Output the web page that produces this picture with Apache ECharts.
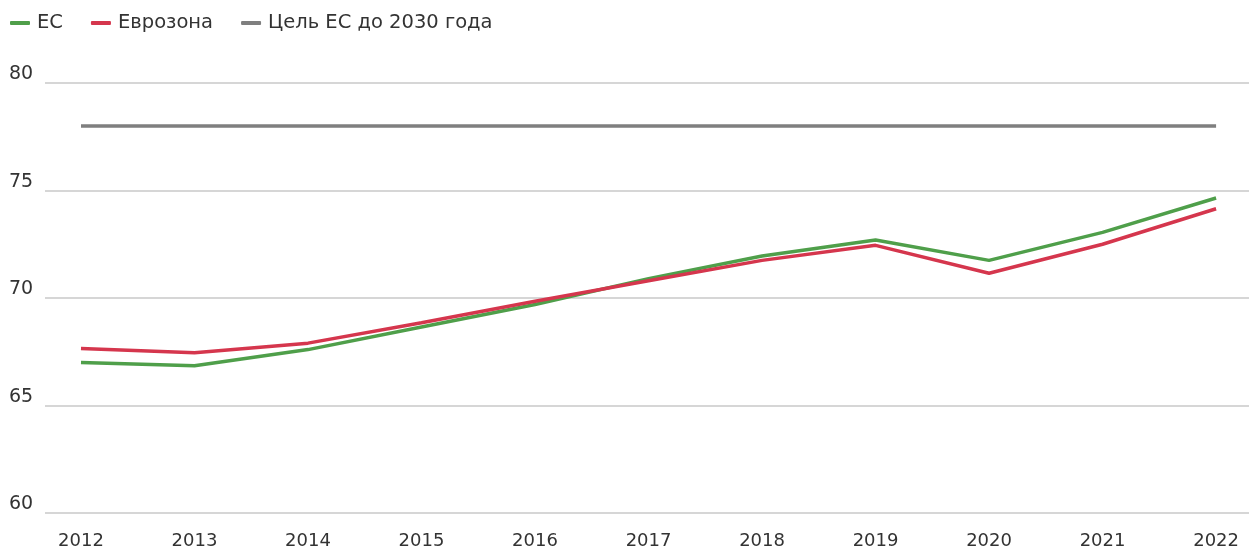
<!DOCTYPE html>
<html>
<head>
<meta charset="utf-8">
<script src="https://cdn.jsdelivr.net/npm/echarts@6/dist/echarts.min.js"></script>
<style>html,body{margin:0;padding:0;background:#fff}#c{width:1249px;height:552px}</style>
</head>
<body>
<div id="c"></div>
<script>
const years = [2012, 2013, 2014, 2015, 2016, 2017, 2018, 2019, 2020, 2021, 2022];
const euValues = [67.0, 66.85, 67.6, 68.65, 69.7, 70.9, 71.95, 72.7, 71.75, 73.05, 74.65];
const ezValues = [67.65, 67.45, 67.9, 68.85, 69.85, 70.8, 71.75, 72.45, 71.15, 72.5, 74.15];
const targetValue = 78.0;
const seriesNames = ['ЕС', 'Еврозона', 'Цель ЕС до 2030 года'];
const yTicks = [60, 65, 70, 75, 80];

const font = '"DejaVu Sans", sans-serif';
const pair = (arr) => years.map((y, i) => [y, arr[i]]);

const chart = echarts.init(document.getElementById('c'));
chart.setOption({
  animation: false,
  legend: {
    left: 5, top: 8, itemGap: 28, itemWidth: 20, itemHeight: 4,
    icon: 'roundRect',
    textStyle: { fontFamily: font, fontSize: 19.5, color: '#333', padding: [0, 0, 0, 2] },
    data: seriesNames
  },
  grid: { left: 45, right: 0, top: 83, bottom: 39 },
  xAxis: {
    type: 'value', min: 2011.683, max: 2022.29,
    axisLine: { show: false }, axisTick: { show: false }, splitLine: { show: false },
    axisLabel: {
      customValues: years, margin: 19,
      fontFamily: font, fontSize: 18, color: '#333',
      formatter: v => String(v)
    }
  },
  yAxis: {
    type: 'value', min: 60, max: 80, interval: 5,
    axisLine: { show: false }, axisTick: { show: false },
    splitLine: { lineStyle: { color: '#c8c8c8', width: 1.5 } },
    axisLabel: {
      align: 'left', margin: 36, verticalAlign: 'bottom', padding: [0, 0, -1, 0],
      fontFamily: font, fontSize: 19, color: '#333'
    }
  },
  series: [
    { name: seriesNames[0], type: 'line', data: pair(euValues), symbol: 'none',
      lineStyle: { color: '#4f9f4a', width: 3.5 }, itemStyle: { color: '#4f9f4a' } },
    { name: seriesNames[1], type: 'line', data: pair(ezValues), symbol: 'none',
      lineStyle: { color: '#d5364d', width: 3.5 }, itemStyle: { color: '#d5364d' } },
    { name: seriesNames[2], type: 'line', data: years.map(y => [y, targetValue]), symbol: 'none',
      lineStyle: { color: '#7f7f7f', width: 3.5 }, itemStyle: { color: '#7f7f7f' } }
  ]
});
</script>
</body>
</html>
